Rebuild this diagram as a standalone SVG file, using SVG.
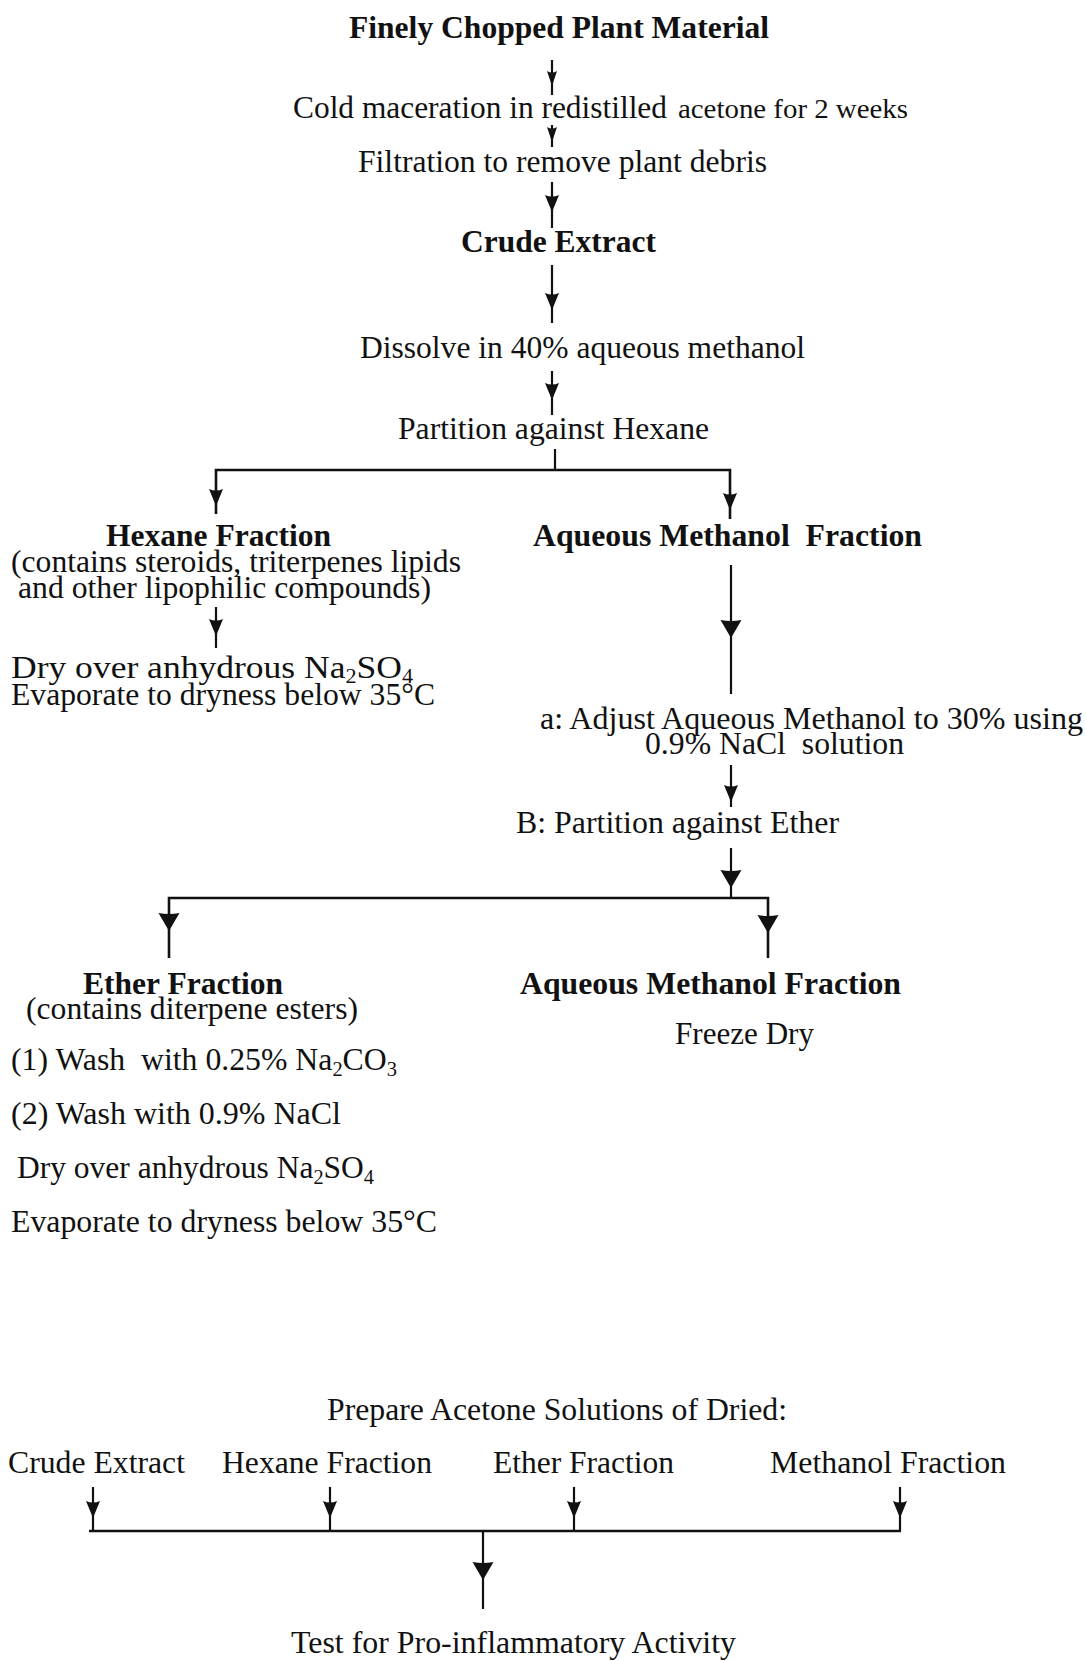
<svg xmlns="http://www.w3.org/2000/svg" width="1086" height="1661" viewBox="0 0 1086 1661">
<style>
text{font-family:"Liberation Serif","Times New Roman",serif;font-size:31px;fill:#111;white-space:pre}
.b{font-weight:bold}
.s{font-size:27px}
.sub{font-size:20px}
.ln{stroke:#111;stroke-width:2.2;fill:none}
.hl{stroke:#111;stroke-width:2.6;fill:none}
</style>
<defs>
<path id="ahS" d="M-5,-15 Q0,-12 5,-15 L0,0 Z" fill="#111"/>
<path id="ahM" d="M-7,-17 Q0,-14 7,-17 L0,0 Z" fill="#111"/>
<path id="ahL" d="M-10.5,-18 Q0,-16 10.5,-18 L0,0 Z" fill="#111"/>
</defs>
<rect width="1086" height="1661" fill="#fff"/>

<g id="connectors">
<line class="ln" x1="552" y1="60" x2="552" y2="95"/><use href="#ahS" x="552" y="86"/>
<line class="ln" x1="552" y1="125" x2="552" y2="147"/><use href="#ahS" x="552" y="142"/>
<line class="ln" x1="552" y1="182" x2="552" y2="228"/><use href="#ahM" x="552" y="212"/>
<line class="ln" x1="552" y1="265" x2="552" y2="323"/><use href="#ahM" x="552" y="310"/>
<line class="ln" x1="552" y1="371" x2="552" y2="415"/><use href="#ahM" x="552" y="400"/>
<line class="ln" x1="555" y1="449" x2="555" y2="470"/>
<path class="hl" d="M216,514 V470 H730 V519"/>
<use href="#ahM" x="216" y="506"/><use href="#ahM" x="730" y="510"/>
<line class="ln" x1="216" y1="607" x2="216" y2="648"/><use href="#ahM" x="216" y="636"/>
<line class="ln" x1="731" y1="565" x2="731" y2="694"/><use href="#ahL" x="731" y="638"/>
<line class="ln" x1="731" y1="765" x2="731" y2="807"/><use href="#ahM" x="731" y="802"/>
<line class="ln" x1="731" y1="848" x2="731" y2="898"/><use href="#ahL" x="731" y="888"/>
<path class="hl" d="M169,958 V898 H768 V958"/>
<use href="#ahL" x="169" y="931"/><use href="#ahL" x="768" y="933"/>
<line class="ln" x1="93" y1="1487" x2="93" y2="1531"/><use href="#ahM" x="93" y="1518"/>
<line class="ln" x1="330" y1="1487" x2="330" y2="1531"/><use href="#ahM" x="330" y="1518"/>
<line class="ln" x1="574" y1="1487" x2="574" y2="1531"/><use href="#ahM" x="574" y="1518"/>
<line class="ln" x1="900" y1="1487" x2="900" y2="1531"/><use href="#ahM" x="900" y="1518"/>
<line class="hl" x1="89" y1="1531" x2="901" y2="1531"/>
<line class="ln" x1="483" y1="1531" x2="483" y2="1609"/><use href="#ahL" x="483" y="1580"/>
</g>

<g id="n-plant"><text class="b" x="349" y="38" textLength="420" lengthAdjust="spacingAndGlyphs">Finely Chopped Plant Material</text></g>
<g id="n-maceration"><text x="293" y="118" textLength="374" lengthAdjust="spacingAndGlyphs">Cold maceration in redistilled</text><text class="s" x="678" y="118" textLength="230" lengthAdjust="spacingAndGlyphs">acetone for 2 weeks</text></g>
<g id="n-filtration"><text x="358" y="172" textLength="409" lengthAdjust="spacingAndGlyphs">Filtration to remove plant debris</text></g>
<g id="n-crude"><text class="b" x="461" y="252" textLength="195" lengthAdjust="spacingAndGlyphs">Crude Extract</text></g>
<g id="n-dissolve"><text x="360" y="358" textLength="445" lengthAdjust="spacingAndGlyphs">Dissolve in 40% aqueous methanol</text></g>
<g id="n-partition-hexane"><text x="398" y="439" textLength="311" lengthAdjust="spacingAndGlyphs">Partition against Hexane</text></g>
<g id="n-hexane">
<text class="b" x="106" y="546" textLength="225" lengthAdjust="spacingAndGlyphs">Hexane Fraction</text>
<text x="11" y="572" textLength="450" lengthAdjust="spacingAndGlyphs">(contains steroids, triterpenes lipids</text>
<text x="18" y="598" textLength="413" lengthAdjust="spacingAndGlyphs">and other lipophilic compounds)</text>
</g>
<g id="n-hexane-dry">
<text x="11" y="678" style="font-size:32px" textLength="402" lengthAdjust="spacingAndGlyphs">Dry over anhydrous Na<tspan class="sub" dy="5">2</tspan><tspan dy="-5">SO</tspan><tspan class="sub" dy="5">4</tspan></text>
<text x="11" y="705" textLength="424" lengthAdjust="spacingAndGlyphs">Evaporate to dryness below 35°C</text>
</g>
<g id="n-aqmeoh1"><text class="b" x="533" y="546" textLength="389" lengthAdjust="spacingAndGlyphs">Aqueous Methanol  Fraction</text></g>
<g id="n-adjust">
<text x="540" y="729" textLength="543" lengthAdjust="spacingAndGlyphs">a: Adjust Aqueous Methanol to 30% using</text>
<text x="645" y="754" textLength="259" lengthAdjust="spacingAndGlyphs">0.9% NaCl  solution</text>
</g>
<g id="n-partition-ether"><text x="516" y="833" textLength="323" lengthAdjust="spacingAndGlyphs">B: Partition against Ether</text></g>
<g id="n-ether">
<text class="b" x="83" y="994" textLength="200" lengthAdjust="spacingAndGlyphs">Ether Fraction</text>
<text x="26" y="1019" textLength="332" lengthAdjust="spacingAndGlyphs">(contains diterpene esters)</text>
<text x="11" y="1070" textLength="386" lengthAdjust="spacingAndGlyphs">(1) Wash  with 0.25% Na<tspan class="sub" dy="6">2</tspan><tspan dy="-6">CO</tspan><tspan class="sub" dy="6">3</tspan></text>
<text x="11" y="1124" textLength="330" lengthAdjust="spacingAndGlyphs">(2) Wash with 0.9% NaCl</text>
<text x="17" y="1178" textLength="357" lengthAdjust="spacingAndGlyphs">Dry over anhydrous Na<tspan class="sub" dy="6">2</tspan><tspan dy="-6">SO</tspan><tspan class="sub" dy="6">4</tspan></text>
<text x="11" y="1232" textLength="426" lengthAdjust="spacingAndGlyphs">Evaporate to dryness below 35°C</text>
</g>
<g id="n-aqmeoh2">
<text class="b" x="520" y="994" textLength="381" lengthAdjust="spacingAndGlyphs">Aqueous Methanol Fraction</text>
<text x="675" y="1044" textLength="139" lengthAdjust="spacingAndGlyphs">Freeze Dry</text>
</g>
<g id="n-prepare"><text x="327" y="1420" textLength="460" lengthAdjust="spacingAndGlyphs">Prepare Acetone Solutions of Dried:</text></g>
<g id="n-crude2"><text x="8" y="1473" textLength="177" lengthAdjust="spacingAndGlyphs">Crude Extract</text></g>
<g id="n-hexane2"><text x="222" y="1473" textLength="210" lengthAdjust="spacingAndGlyphs">Hexane Fraction</text></g>
<g id="n-ether2"><text x="493" y="1473" textLength="181" lengthAdjust="spacingAndGlyphs">Ether Fraction</text></g>
<g id="n-methanol2"><text x="770" y="1473" textLength="236" lengthAdjust="spacingAndGlyphs">Methanol Fraction</text></g>
<g id="n-test"><text x="291" y="1653" textLength="445" lengthAdjust="spacingAndGlyphs">Test for Pro-inflammatory Activity</text></g>
</svg>
